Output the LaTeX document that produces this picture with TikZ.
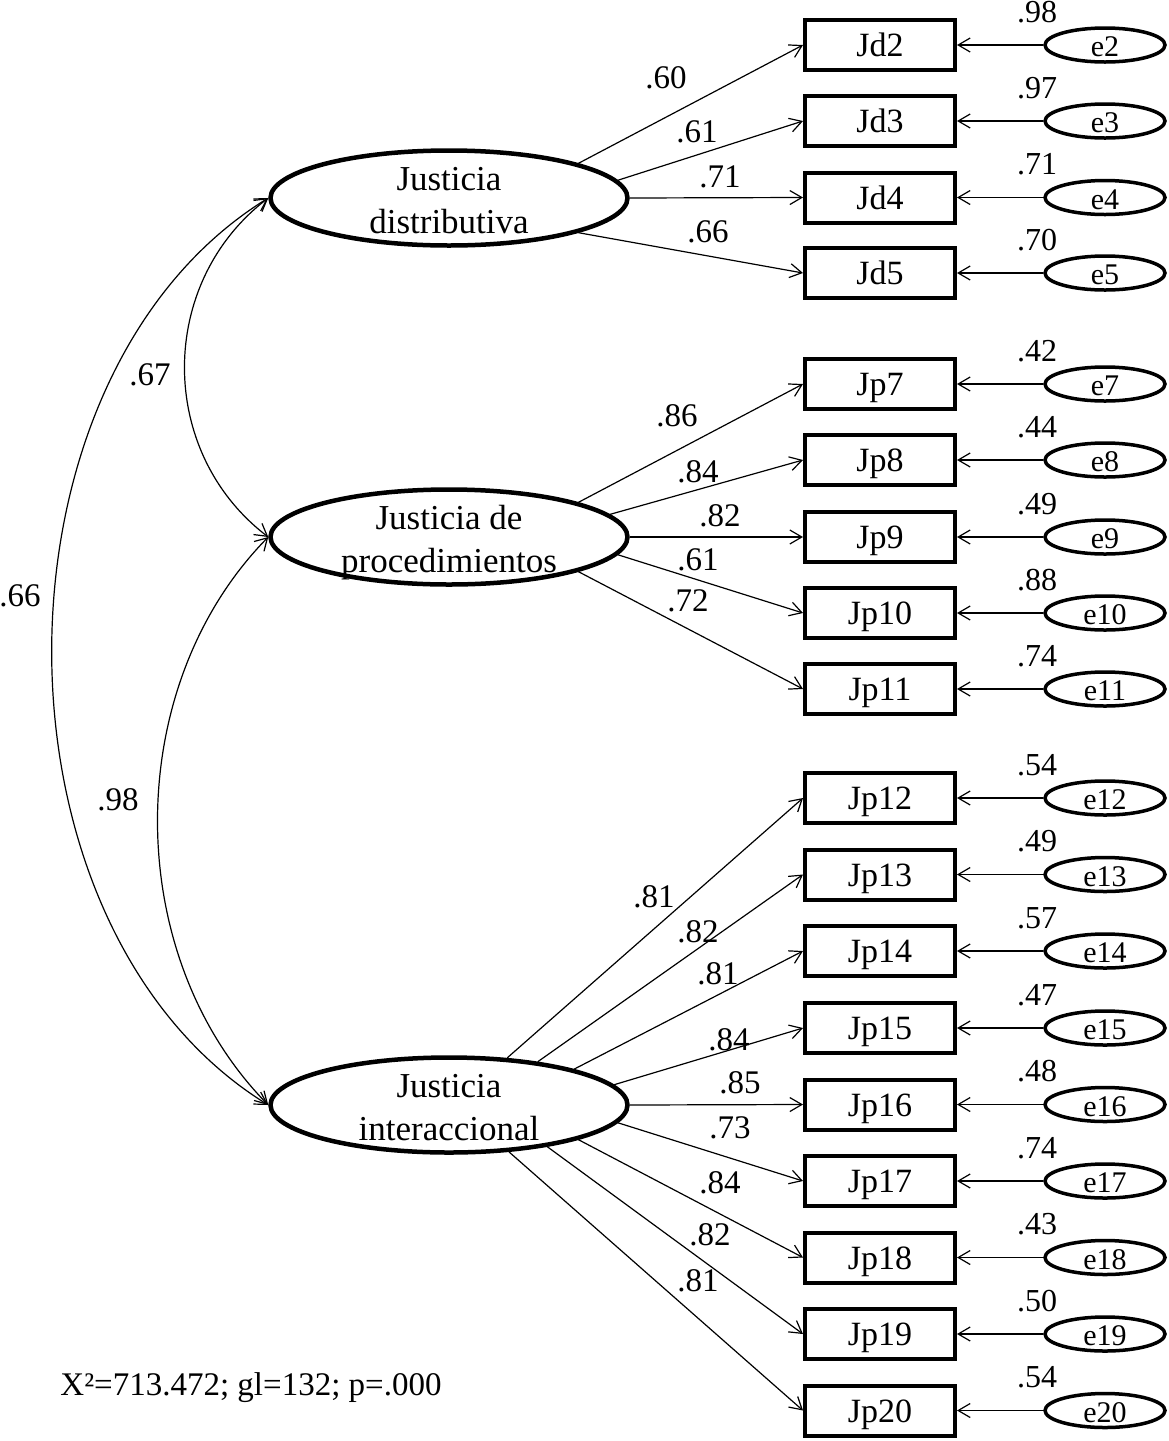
\documentclass[tikz,border=0pt]{standalone}
\usepackage{fontspec}
\setmainfont{Liberation Serif}
\usetikzlibrary{arrows.meta,shapes.geometric}
\begin{document}
\begin{tikzpicture}[x=1pt,y=-1pt,
  barb/.tip={Straight Barb[length=12pt,width=14pt,line width=1.2pt]},
  path/.style={line width=1.2pt,-barb},
  cov/.style={line width=1.2pt,barb-barb},
  obs/.style={draw,line width=4pt,minimum width=150pt,minimum height=50pt,inner sep=0pt,
    font=\fontsize{34}{40}\selectfont,text height=23pt,text depth=0pt},
  lat/.style={draw,ellipse,line width=4.5pt,minimum width=357pt,minimum height=95pt,inner sep=0pt},
  lattext/.style={align=center,font=\fontsize{35}{43}\selectfont,inner sep=0pt},
  err/.style={draw,ellipse,line width=3.5pt,minimum width=120pt,minimum height=34pt,inner sep=0pt},
  errtext/.style={font=\fontsize{30}{32}\selectfont,inner sep=0pt},
  lbl/.style={font=\fontsize{33}{36}\selectfont,inner sep=0pt},
  vlbl/.style={font=\fontsize{32}{36}\selectfont,inner sep=0pt}
]
\useasboundingbox (0,0) rectangle (1168,1441);

% latent variables
\node[lat] (J1) at (449,198) {};
\node[lattext] (J1t) at (449,201) {Justicia\\distributiva};
\node[lat] (J2) at (449,537) {};
\node[lattext] (J2t) at (449,543) {Justicia de\\procedimientos};
\node[lat] (J3) at (449,1105) {};
\node[lattext] (J3t) at (449,1108) {Justicia\\interaccional};

% indicators with errors
\foreach \n/\e/\y/\ev in {Jd2/e2/45/.98, Jd3/e3/121/.97, Jd4/e4/197.5/.71, Jd5/e5/273/.70,
  Jp7/e7/384/.42, Jp8/e8/460/.44, Jp9/e9/537/.49, Jp10/e10/613/.88, Jp11/e11/689/.74,
  Jp12/e12/798/.54, Jp13/e13/874.5/.49, Jp14/e14/951/.57, Jp15/e15/1028/.47, Jp16/e16/1104.5/.48,
  Jp17/e17/1181/.74, Jp18/e18/1257.5/.43, Jp19/e19/1334/.50, Jp20/e20/1410.5/.54} {
  \node[obs] (\n) at (880,\y) {\n};
  \node[err] (\e) at (1105,\y) {};
  \node[errtext] (t\e) at (1105,\y+2) {\e};
  \draw[path] (\e.west) -- (\n.east);
  \node[vlbl] (v\e) at (1037,\y-33) {\ev};
}

% loadings
\foreach \f/\n/\a/\lx/\ly/\v in {
  J1/Jd2/15/666/78/.60, J1/Jd3/6/697/132/.61, J1/Jd4/0/720/177/.71, J1/Jd5/345/708/232/.66,
  J2/Jp7/15/677/416/.86, J2/Jp8/8/698/472/.84, J2/Jp9/0/720/516/.82, J2/Jp10/354/698/560/.61, J2/Jp11/345/688/601/.72,
  J3/Jp12/39/654/897/.81, J3/Jp13/26/698/932/.82, J3/Jp14/16/718/974/.81, J3/Jp15/7/729/1040/.84,
  J3/Jp16/0/740/1083/.85, J3/Jp17/354/730/1128/.73, J3/Jp18/345/720/1183/.84, J3/Jp19/337/710/1235/.82,
  J3/Jp20/322/698/1281/.81} {
  \draw[path] (\f.\a) -- (\n.west);
  \node[lbl] (l\n) at (\lx,\ly) {\v};
}

% covariances
\draw[cov] (J1.west) .. controls (157,283) and (157,452) .. (J2.west);
\draw[cov] (J1.west) .. controls (-20,376) and (-20,927) .. (J3.west);
\draw[cov] (J2.west) .. controls (121,687) and (121,955) .. (J3.west);
\node[lbl] (c12) at (150,375) {.67};
\node[lbl] (c13) at (20,596) {.66};
\node[lbl] (c23) at (118,800) {.98};

% fit
\node[lbl] (fit) at (251,1388) {X²=713.472; gl=132; p=.000};
\end{tikzpicture}
\end{document}
